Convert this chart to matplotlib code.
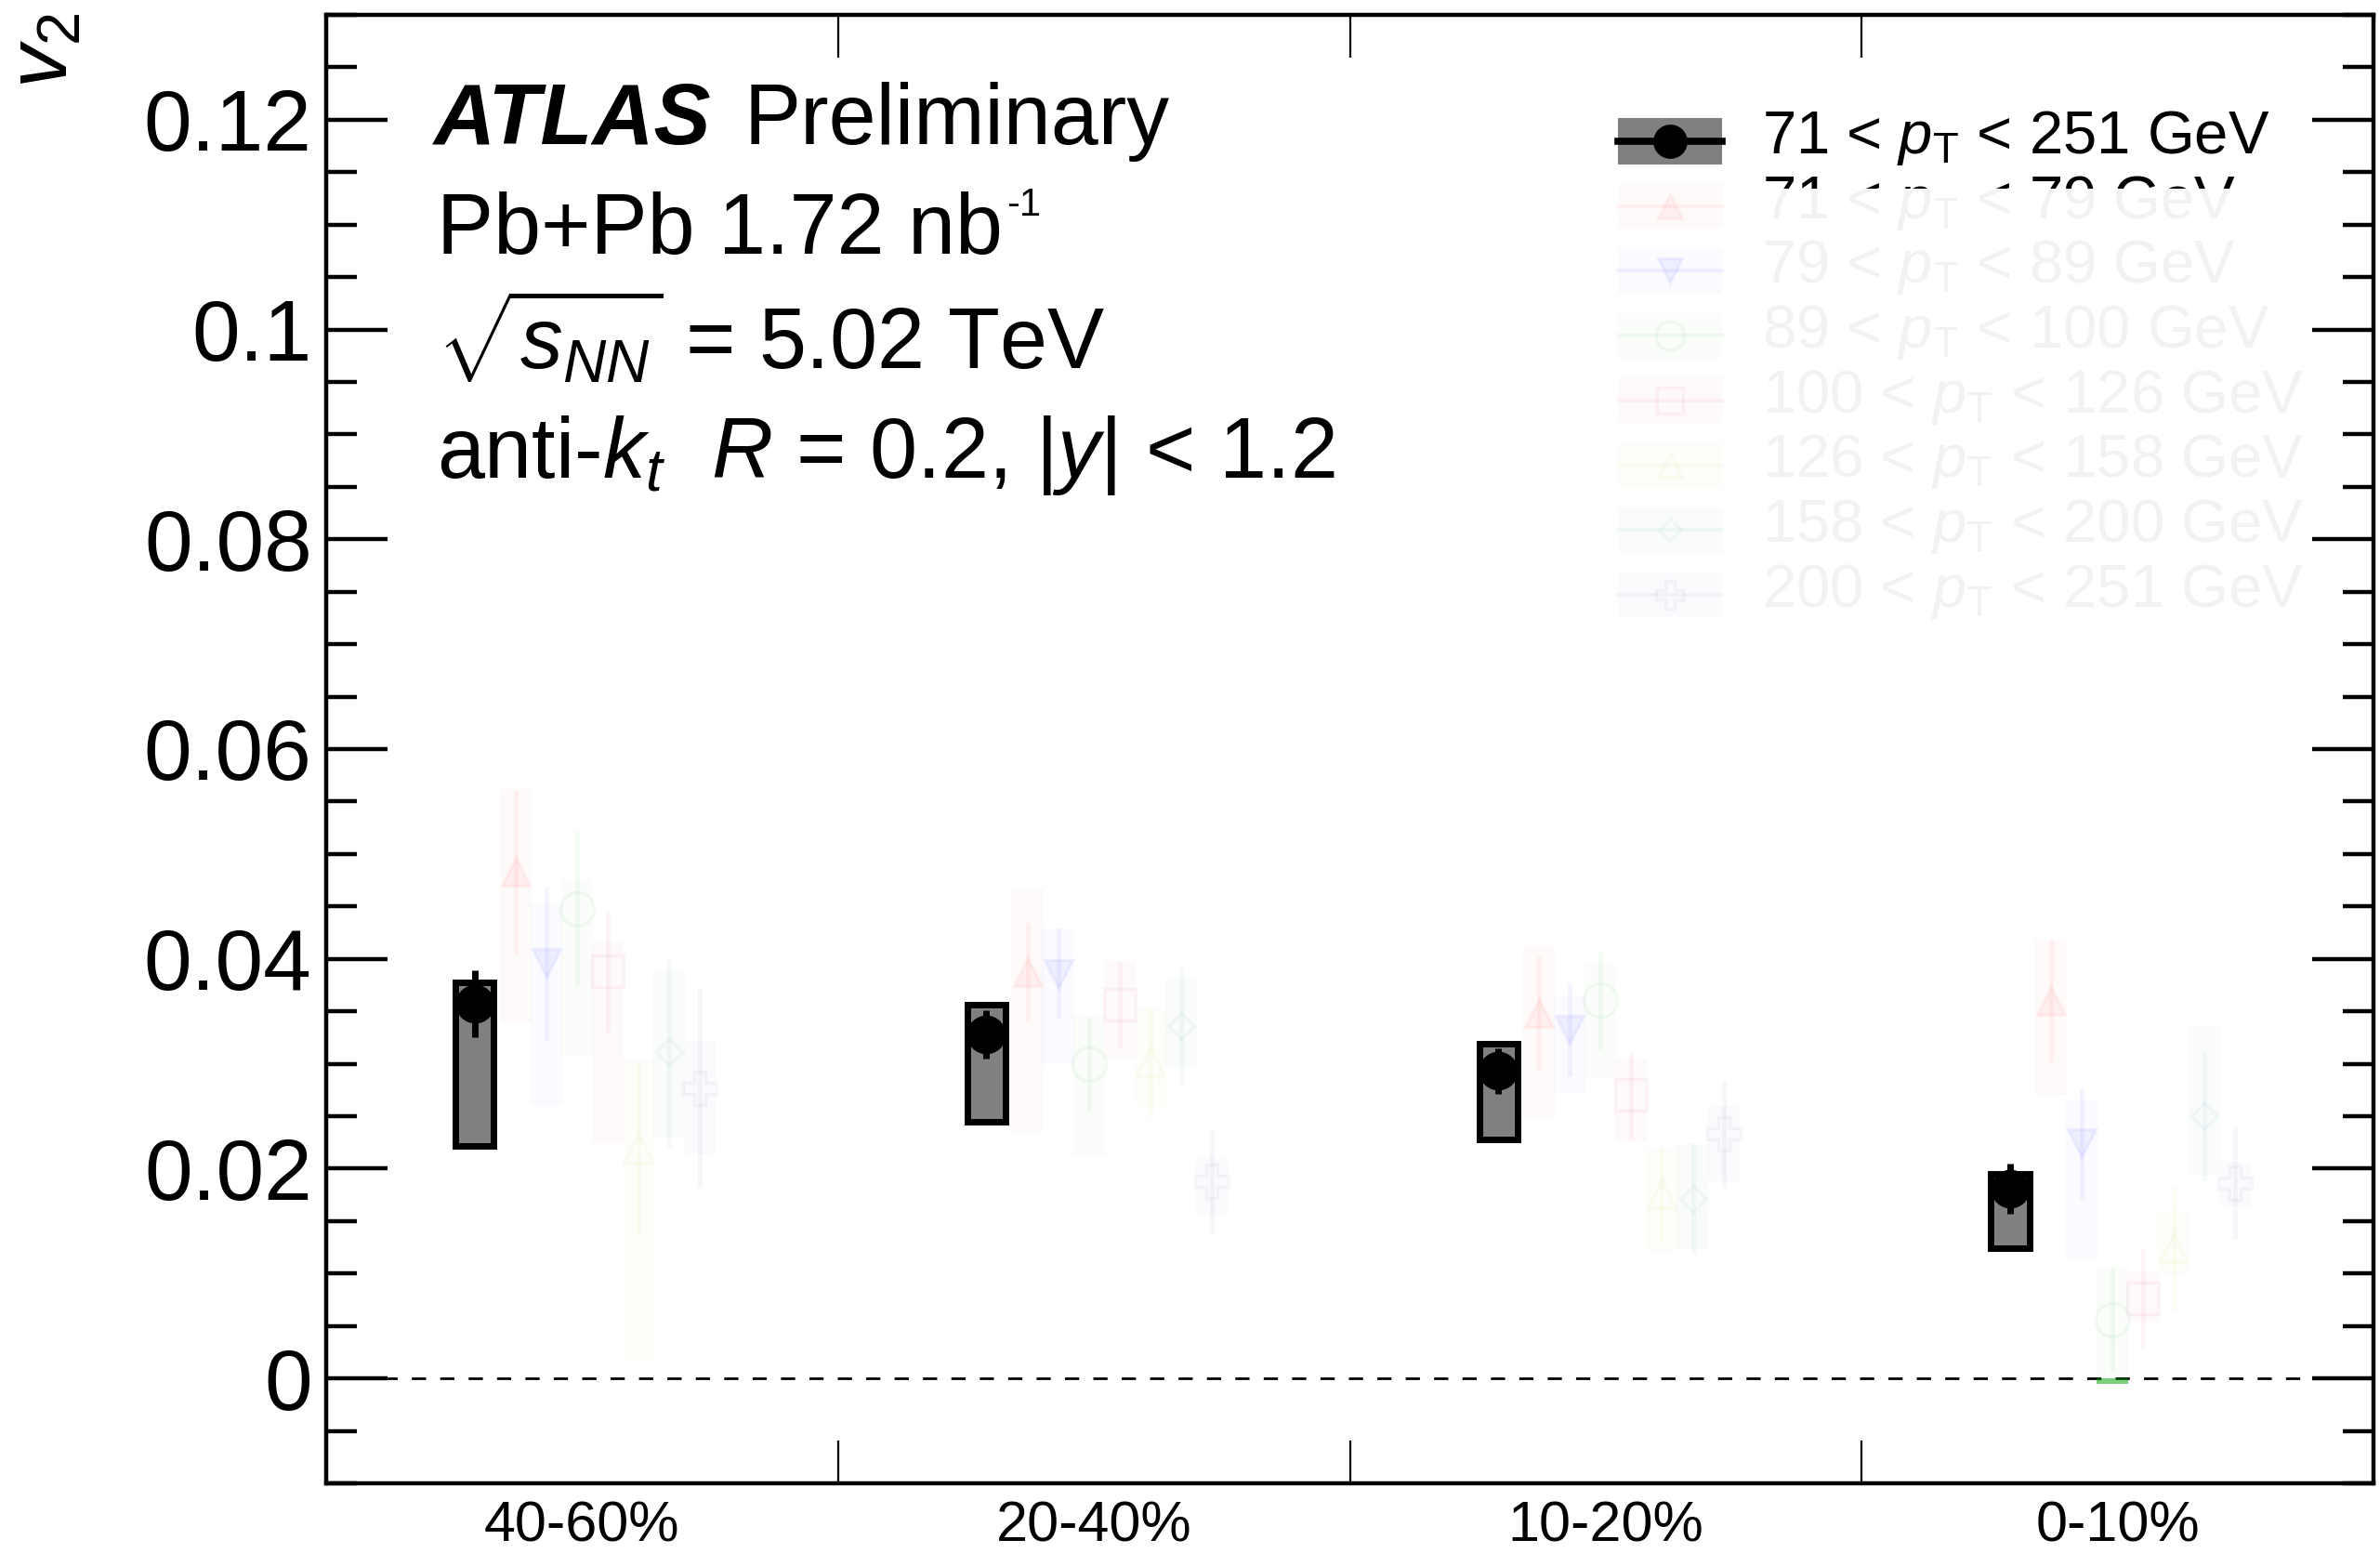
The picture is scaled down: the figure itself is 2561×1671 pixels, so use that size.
import numpy as np
import matplotlib
matplotlib.use('Agg')
import matplotlib.pyplot as plt
from matplotlib.patches import Rectangle
from matplotlib.lines import Line2D
from matplotlib.transforms import Bbox

plt.rcParams['font.family'] = ['Liberation Sans', 'DejaVu Sans']
plt.rcParams['mathtext.fontset'] = 'custom'
plt.rcParams['mathtext.rm'] = 'Liberation Sans'
plt.rcParams['mathtext.it'] = 'Liberation Sans:italic'
plt.rcParams['mathtext.bf'] = 'Liberation Sans:bold'
plt.rcParams['lines.scale_dashes'] = False

W, H, DPI = 2561, 1671, 100

# ---- data ----
centrality = ['40-60%', '20-40%', '10-20%', '0-10%']
yticks = [0, 0.02, 0.04, 0.06, 0.08, 0.1, 0.12]
ytick_labels = ['0', '0.02', '0.04', '0.06', '0.08', '0.1', '0.12']

# inclusive 71 < pT < 251 GeV
v2_all = [0.0357, 0.0328, 0.0293, 0.0181]
stat_all = [0.0032, 0.0023, 0.0022, 0.0024]
syst_lo_all = [0.0222, 0.0245, 0.0228, 0.0124]
syst_hi_all = [0.0378, 0.0356, 0.0319, 0.0195]

# pT bins (faded in the reference)
pt_labels = ['71 < $p_{\\mathrm{T}}$ < 79 GeV', '79 < $p_{\\mathrm{T}}$ < 89 GeV',
             '89 < $p_{\\mathrm{T}}$ < 100 GeV', '100 < $p_{\\mathrm{T}}$ < 126 GeV',
             '126 < $p_{\\mathrm{T}}$ < 158 GeV', '158 < $p_{\\mathrm{T}}$ < 200 GeV',
             '200 < $p_{\\mathrm{T}}$ < 251 GeV']

v2_71_79 = [0.0483, 0.0387, 0.0348, 0.0360]
stat_71_79 = [0.0078, 0.0047, 0.0054, 0.0058]
lo_71_79 = [0.0339, 0.0235, 0.0247, 0.0270]
hi_71_79 = [0.0562, 0.0467, 0.0412, 0.0418]

v2_79_89 = [0.0396, 0.0386, 0.0332, 0.0224]
stat_79_89 = [0.0073, 0.0043, 0.0044, 0.0053]
lo_79_89 = [0.0260, 0.0300, 0.0272, 0.0114]
hi_79_89 = [0.0452, 0.0429, 0.0364, 0.0266]

v2_89_100 = [0.0448, 0.0300, 0.0361, 0.0056]
stat_89_100 = [0.0074, 0.0045, 0.0047, 0.0050]
lo_89_100 = [0.0308, 0.0213, 0.0286, -0.0005]
hi_89_100 = [0.0476, 0.0347, 0.0394, 0.0107]

v2_100_126 = [0.0388, 0.0356, 0.0270, 0.0076]
stat_100_126 = [0.0058, 0.0041, 0.0041, 0.0047]
lo_100_126 = [0.0224, 0.0305, 0.0225, 0.0053]
hi_100_126 = [0.0416, 0.0398, 0.0305, 0.0102]

v2_126_158 = [0.0219, 0.0301, 0.0176, 0.0124]
stat_126_158 = [0.0082, 0.0052, 0.0046, 0.0059]
lo_126_158 = [0.0018, 0.0260, 0.0121, 0.0099]
hi_126_158 = [0.0303, 0.0353, 0.0219, 0.0160]

v2_158_200 = [0.0311, 0.0336, 0.0171, 0.0250]
stat_158_200 = [0.0090, 0.0056, 0.0052, 0.0061]
lo_158_200 = [0.0230, 0.0297, 0.0123, 0.0193]
hi_158_200 = [0.0387, 0.0382, 0.0223, 0.0336]

v2_200_251 = [0.0277, 0.0188, 0.0233, 0.0186]
stat_200_251 = [0.0094, 0.0050, 0.0051, 0.0054]
lo_200_251 = [0.0214, 0.0155, 0.0188, 0.0164]
hi_200_251 = [0.0322, 0.0211, 0.0260, 0.0207]

# ---- styles ----
colors = ['#ff0000', '#0000ff', '#00a000', '#cc0066', '#c8c800', '#007878', '#5030a0']
markers = ['^', 'v', 'o', 's', '^', 'D', 'P']
filled = [True, True, False, False, False, False, False]
msizes = [22, 22, 26, 24, 22, 14, 26]
series = [
    (v2_71_79, stat_71_79, lo_71_79, hi_71_79),
    (v2_79_89, stat_79_89, lo_79_89, hi_79_89),
    (v2_89_100, stat_89_100, lo_89_100, hi_89_100),
    (v2_100_126, stat_100_126, lo_100_126, hi_100_126),
    (v2_126_158, stat_126_158, lo_126_158, hi_126_158),
    (v2_158_200, stat_158_200, lo_158_200, hi_158_200),
    (v2_200_251, stat_200_251, lo_200_251, hi_200_251),
]
A_LINE, A_BOX = 0.045, 0.02

fig = plt.figure(figsize=(W / DPI, H / DPI), dpi=DPI)
ax = fig.add_axes([351 / W, 1 - 1596 / H, (2554 - 351) / W, (1596 - 16) / H])

bins = np.arange(len(centrality))

# faded pT-differential series
for i, (v2, st, lo, hi) in enumerate(series):
    xs = bins + 0.37 + 0.06 * i
    c = colors[i]
    for x, l, h in zip(xs, lo, hi):
        ax.add_patch(Rectangle((x - 0.031, l), 0.062, h - l, facecolor=c,
                               alpha=A_BOX, edgecolor='none', zorder=2))
        if l < 0:
            # part of the box below zero shows up solid in the reference
            ax.add_patch(Rectangle((x - 0.031, l), 0.062, -l, facecolor=c,
                                   alpha=0.5, edgecolor='none', zorder=2))
    ax.errorbar(xs, v2, yerr=st, fmt='none', ecolor=c, elinewidth=3.5,
                capsize=0, alpha=A_LINE, zorder=3)
    ax.plot(xs, v2, ls='none', marker=markers[i], ms=msizes[i],
            mfc=c if filled[i] else 'none', mec=c, mew=2.5,
            alpha=A_LINE, zorder=3)

# inclusive series
x_all = bins + 0.29
for x, l, h in zip(x_all, syst_lo_all, syst_hi_all):
    ax.add_patch(Rectangle((x - 0.0375, l), 0.075, h - l, facecolor='#808080',
                           edgecolor='black', lw=5, zorder=4))
ax.errorbar(x_all, v2_all, yerr=stat_all, fmt='o', color='black', ms=29,
            elinewidth=5, capsize=0, zorder=5)

ax.axhline(0, color='black', lw=2, ls=(0, (11, 11)), zorder=1)

ax.set_xlim(0, 4)
ax.set_ylim(-0.01, 0.13)

ax.set_yticks(yticks)
ax.set_yticklabels(ytick_labels)
ax.set_yticks(np.arange(-0.01, 0.1301, 0.005), minor=True)
ax.set_xticks([1, 2, 3])
ax.set_xticklabels([])
ax.set_xticks(bins + 0.5, minor=True)
ax.set_xticklabels(centrality, minor=True)

ax.tick_params(axis='y', which='both', direction='in', left=True, right=True,
               labelsize=67, pad=11)
ax.tick_params(axis='y', which='major', length=47.5, width=3.2)
ax.tick_params(axis='y', which='minor', length=23.8, width=3.2)
ax.tick_params(axis='x', which='major', direction='in', top=True, bottom=True,
               length=33, width=1.6)
ax.tick_params(axis='x', which='minor', length=0, labelsize=44, pad=13)
for sp in ax.spines.values():
    sp.set_linewidth(3.2)

# y axis title
fig.text(5 / W, 1 - 14 / H, '$v_2$', rotation=90, ha='left', va='top', fontsize=67)


def fx(px):
    return px / W


def fy(py):
    return 1 - py / H


# ATLAS labels
fig.text(fx(467), fy(155), 'ATLAS', fontsize=66, fontweight='bold',
         style='italic', va='baseline')
fig.text(fx(800), fy(155), 'Preliminary', fontsize=66, va='baseline')
lumi = fig.text(fx(470), fy(273), 'Pb+Pb 1.72 nb', fontsize=66, va='baseline')
renderer = fig.canvas.get_renderer()
x_end = lumi.get_window_extent(renderer).x1
fig.text((x_end + 4) / W, fy(232), '-1', fontsize=30, va='baseline')
fig.text(fx(470), fy(397), '$\\sqrt{s_{NN}}$ = 5.02 TeV', fontsize=66, va='baseline')
fig.text(fx(470), fy(514), 'anti-$k_{t}$  $R$ = 0.2, |$y$| < 1.2', fontsize=66,
         va='baseline')

# legend (drawn by hand)
row0, drow = 152, 69.7
bx0, bx1, bh = 1741, 1853, 49
tx = 1896
leg_txt = '#f2f2f2'

def legend_row(k, face, line_c, line_w, marker, mfc, mec, ms, alpha_box, alpha_line):
    yc = row0 + drow * k
    fig.patches.append(Rectangle((fx(bx0), fy(yc + bh / 2)), (bx1 - bx0) / W, bh / H,
                                 transform=fig.transFigure, facecolor=face,
                                 alpha=alpha_box, edgecolor='none'))
    fig.lines.append(Line2D([fx(bx0), fx(bx1)], [fy(yc), fy(yc)], transform=fig.transFigure,
                            color=line_c, lw=line_w, alpha=alpha_line))
    fig.lines.append(Line2D([fx((bx0 + bx1) / 2)], [fy(yc)], transform=fig.transFigure,
                            ls='none', marker=marker, mfc=mfc, mec=mec, ms=ms, mew=2.5,
                            alpha=alpha_line))
    return yc

yc = legend_row(0, '#808080', 'black', 5.5, 'o', 'black', 'black', 24, 1, 1)
fig.text(fx(tx), fy(yc + 13), '71 < $p_{\\mathrm{T}}$ < 251 GeV', fontsize=47,
         va='baseline')

for i, lab in enumerate(pt_labels):
    c = colors[i]
    yc = legend_row(i + 1, c, c, 3, markers[i], c if filled[i] else 'none', c,
                    msizes[i] * 0.85, A_BOX, A_LINE)
    fig.text(fx(tx), fy(yc + 13), lab, fontsize=47, va='baseline', color=leg_txt)
    if i == 0:
        # top strip of this row is drawn in black in the reference
        t = fig.text(fx(tx), fy(yc + 13), lab, fontsize=47, va='baseline', color='black')
        t.set_clip_box(Bbox([[1880, H - 203], [2561, H - 176]]))
        t.set_clip_on(True)

fig.savefig('out.png', dpi=DPI)
